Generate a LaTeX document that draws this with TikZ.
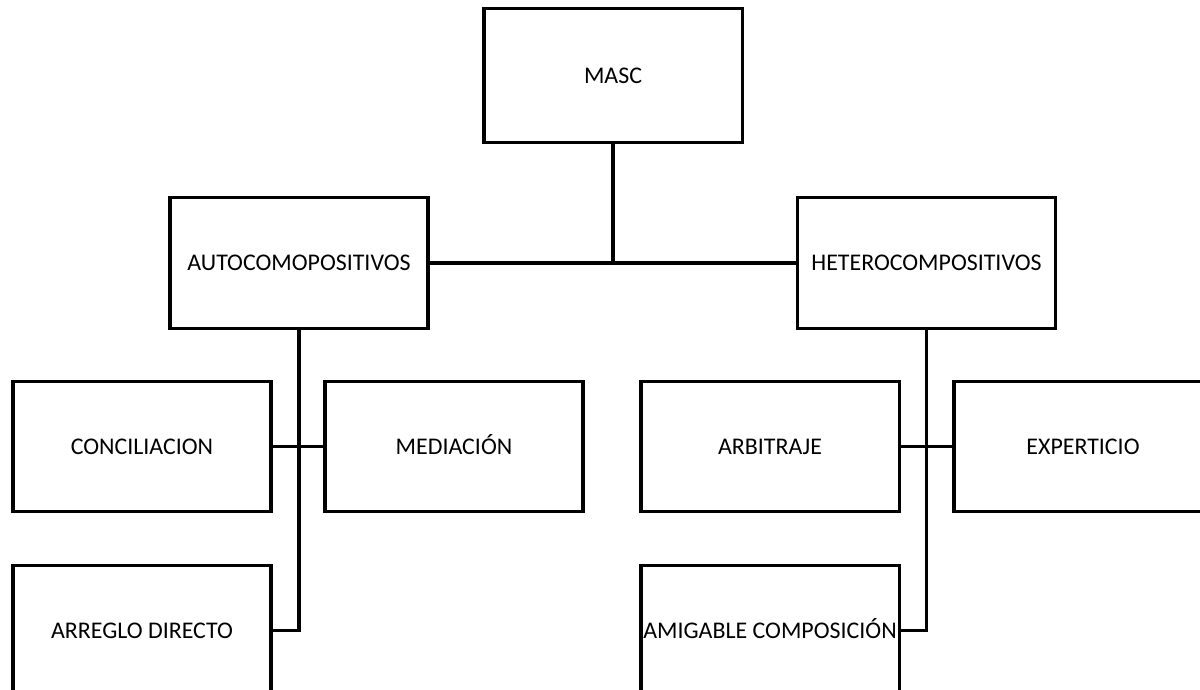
\documentclass[tikz,border=0pt]{standalone}
\usepackage{fontspec}
\setmainfont{Carlito}
\begin{document}
\begin{tikzpicture}[x=0.025cm, y=-0.025cm, line width=2.2pt,
	caja/.style={draw, rectangle, inner sep=0pt, minimum width=6.45cm, minimum height=3.27cm, text height=11pt, text depth=0pt, font=\fontsize{17}{20}\selectfont}]
	\useasboundingbox (0,0) rectangle (1200,689);
	\begin{scope}
	\clip (0,0) rectangle (1200,689);

	\node[caja, minimum height=3.37cm] (masc) at (613, 75.5) {MASC};
	\node[caja] (auto) at (299, 263) {AUTOCOMOPOSITIVOS};
	\node[caja] (hetero) at (926.5, 263) {HETEROCOMPOSITIVOS};

	\node[caja] (conc) at (142, 446.5) {CONCILIACION};
	\node[caja] (med) at (454, 446.5) {MEDIACIÓN};
	\node[caja] (arreglo) at (142, 630.5) {ARREGLO DIRECTO};

	\node[caja] (arb) at (770, 446.5) {ARBITRAJE};
	\node[caja] (exp) at (1083, 446.5) {EXPERTICIO};
	\node[caja] (amig) at (770, 630.5) {AMIGABLE COMPOSICIÓN};

	\draw (masc.south) -- (masc.south |- auto.east);
	\draw (auto.east) -- (hetero.west);

	\draw (auto.south) |- (arreglo.east);
	\draw (conc.east) -- (med.west);

	\draw (hetero.south) |- (amig.east);
	\draw (arb.east) -- (exp.west);
	\end{scope}
\end{tikzpicture}
\end{document}
